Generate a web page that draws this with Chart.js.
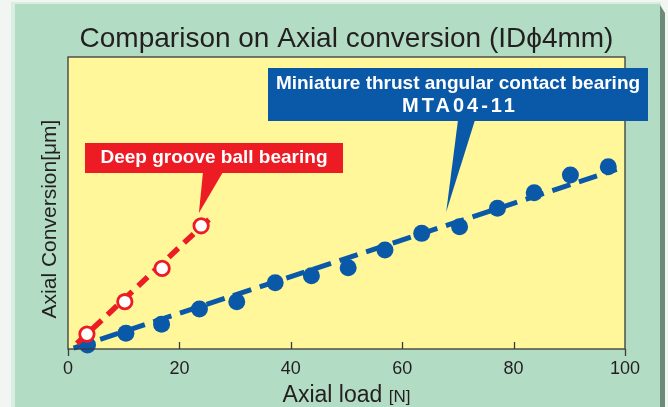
<!DOCTYPE html>
<html>
<head>
<meta charset="utf-8">
<script src="https://cdn.jsdelivr.net/npm/chart.js@4"></script>
<style>
  html,body{margin:0;padding:0;background:#f2f6f2;}
  #wrap{position:relative;width:668px;height:407px;overflow:hidden;}
  #edge{position:absolute;left:11px;top:2px;width:650px;height:405px;background:#d9ede1;}
  #panel{position:absolute;left:15px;top:4px;width:645px;height:403px;background:#b3dcc4;}
  #shade{position:absolute;left:660px;top:5px;width:5px;height:402px;background:#6e8a79;clip-path:polygon(0 0,100% 8px,100% 100%,0 100%);}
  canvas{position:absolute;left:0;top:0;}
</style>
</head>
<body>
<div id="wrap">
  <div id="edge"></div>
  <div id="panel"></div>
  <div id="shade"></div>
  <canvas id="c" width="668" height="407"></canvas>
</div>
<script>
// axial load [N] and axial conversion (arbitrary units, axis has no scale)
const loadMTA=[3.5,10.4,16.8,23.6,30.3,37.2,43.7,50.3,56.9,63.5,70.3,77.1,83.7,90.2,97.0];
const convMTA=[1.4,5.4,8.5,13.7,16.2,22.7,25.1,27.8,33.9,39.6,41.9,48.2,53.5,59.6,62.4];
const loadDG=[3.4,10.2,16.9,23.9];
const convDG=[5.1,16.2,27.6,42.2];
// dashed fit lines
const fitMTAx=[1.0,98.5], fitMTAy=[0.3,61.5];
const fitDGx=[1.6,25.9],  fitDGy=[1.9,45.4];
const xTicks=[0,20,40,60,80,100];

const RED='#ed1c24', BLUE='#0a58a8', INK='#231f20';
const FONT='"Liberation Sans", Arial, sans-serif';
const pts=(xs,ys)=>xs.map((x,i)=>({x,y:ys[i]}));

const decor={
  id:'decor',
  beforeDatasetsDraw(ch){
    const {ctx,chartArea:a}=ch;
    ctx.save();
    ctx.fillStyle='#fff799';
    ctx.fillRect(a.left,a.top,a.right-a.left,a.bottom-a.top);
    ctx.restore();
  },
  afterDatasetsDraw(ch){
    const {ctx,chartArea:a}=ch;
    const xs=ch.scales.x;
    ctx.save();
    // frame
    ctx.strokeStyle='#3a3a3a';ctx.lineWidth=1.3;
    ctx.strokeRect(a.left,a.top,a.right-a.left,a.bottom-a.top);
    // ticks: inner ones point up, end ones hang down
    ctx.beginPath();
    xTicks.forEach(v=>{
      const px=Math.round(xs.getPixelForValue(v))+0.5;
      if(v===0||v===100){ctx.moveTo(px,a.bottom);ctx.lineTo(px,a.bottom+7);}
      else{ctx.moveTo(px,a.bottom);ctx.lineTo(px,a.bottom-7);}
    });
    ctx.stroke();

    // axis titles
    ctx.fillStyle=INK;
    ctx.textBaseline='alphabetic';
    const t1='Axial load ';
    ctx.font='17px '+FONT;
    const w2=ctx.measureText('[N]').width;
    ctx.font='23px '+FONT;
    const w1=ctx.measureText(t1).width;
    let sx=(a.left+a.right)/2-(w1+w2)/2;
    ctx.textAlign='left';
    ctx.fillText(t1,sx,402);
    ctx.font='17px '+FONT;
    ctx.fillText('[N]',sx+w1,402);

    ctx.save();
    ctx.translate(56,219);
    ctx.rotate(-Math.PI/2);
    ctx.textAlign='center';
    ctx.font='21px '+FONT;
    ctx.fillText('Axial Conversion[μm]',0,0);
    ctx.restore();

    // red callout
    ctx.fillStyle=RED;
    ctx.fillRect(85,143,258,30);
    ctx.beginPath();ctx.moveTo(203,172);ctx.lineTo(223,172);
    ctx.lineTo(xs.getPixelForValue(23.5),213);ctx.closePath();ctx.fill();
    ctx.fillStyle='#fff';
    ctx.textAlign='center';ctx.textBaseline='middle';
    ctx.font='bold 19px '+FONT;
    ctx.fillText('Deep groove ball bearing',214,158);

    // blue callout
    ctx.fillStyle=BLUE;
    ctx.fillRect(268,68,380,53);
    ctx.beginPath();ctx.moveTo(458,120);ctx.lineTo(475,120);
    ctx.lineTo(xs.getPixelForValue(67.9),212);ctx.closePath();ctx.fill();
    ctx.fillStyle='#fff';
    ctx.font='bold 19px '+FONT;
    ctx.fillText('Miniature thrust angular contact bearing',458,84);
    ctx.font='bold 20px '+FONT;
    ctx.letterSpacing='3px';
    ctx.fillText('MTA04-11',460,106);
    ctx.restore();
  }
};

new Chart(document.getElementById('c'),{
  type:'scatter',
  data:{datasets:[
    {label:'fit MTA',type:'line',data:pts(fitMTAx,fitMTAy),borderColor:BLUE,borderWidth:5,borderDash:[19,9],pointRadius:0,order:4,clip:false},
    {label:'MTA04-11',data:pts(loadMTA,convMTA),backgroundColor:BLUE,borderColor:BLUE,pointRadius:8.5,borderWidth:0,order:3,clip:false},
    {label:'fit DG',type:'line',data:pts(fitDGx,fitDGy),borderColor:RED,borderWidth:5.5,borderDash:[13,8],pointRadius:0,order:2,clip:false},
    {label:'Deep groove',data:pts(loadDG,convDG),backgroundColor:'#fff',borderColor:RED,pointRadius:7.2,borderWidth:2.8,order:1,clip:false}
  ]},
  options:{
    responsive:false,animation:false,
    layout:{padding:{left:68,right:43,top:0,bottom:0}},
    plugins:{
      legend:{display:false},tooltip:{enabled:false},
      title:{display:true,text:'Comparison on Axial conversion (IDϕ4mm)',color:INK,
        font:{family:FONT,size:28,weight:'normal',lineHeight:1.2},
        padding:{top:22,bottom:1.4}}
    },
    scales:{
      x:{type:'linear',min:0,max:100,
        afterFit:s=>{s.height=58;},
        afterBuildTicks:s=>{s.ticks=xTicks.map(v=>({value:v}));},
        grid:{display:false},border:{display:false},
        ticks:{color:INK,padding:1,font:{family:FONT,size:18}}},
      y:{display:false,min:0,max:100}
    }
  },
  plugins:[decor]
});
</script>
</body>
</html>
